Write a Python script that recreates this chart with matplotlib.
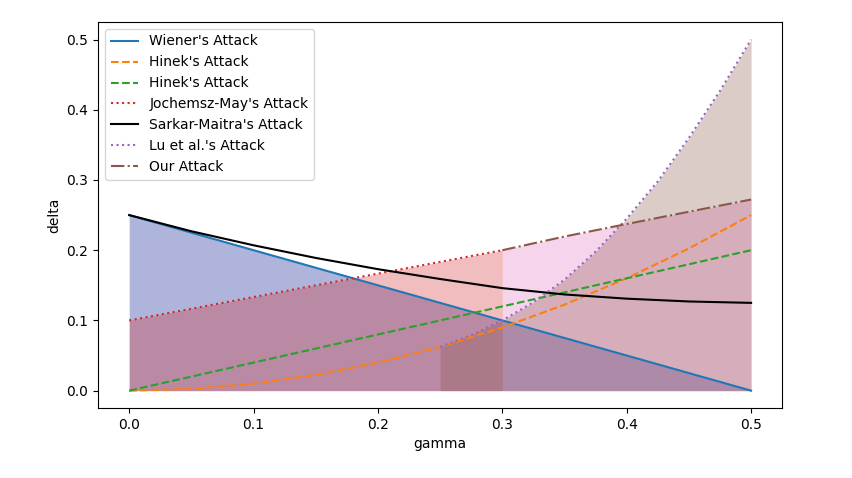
import matplotlib
matplotlib.use("Agg")
import matplotlib.pyplot as plt
import numpy as np

g_full = [0.0, 0.05, 0.1, 0.15, 0.2, 0.25, 0.3, 0.35, 0.4, 0.45, 0.5]
wiener = [0.25, 0.225, 0.2, 0.175, 0.15, 0.125, 0.1, 0.075, 0.05, 0.025, 0.0]
hinek1 = [0.0, 0.0025, 0.01, 0.0225, 0.04, 0.0625, 0.09, 0.1225, 0.16, 0.2025, 0.25]
hinek2 = [0.0, 0.02, 0.04, 0.06, 0.08, 0.1, 0.12, 0.14, 0.16, 0.18, 0.2]
sarkar = [0.25, 0.227, 0.207, 0.189, 0.173, 0.159, 0.146, 0.137, 0.131, 0.127, 0.125]
g_jm = [0.0, 0.1, 0.2, 0.3]
jm = [0.1, 0.1333, 0.1667, 0.2]
g_lu = [0.25, 0.275, 0.3, 0.325, 0.35, 0.375, 0.4, 0.425, 0.45, 0.475, 0.5]
lu = [0.0625, 0.079, 0.1, 0.126, 0.158, 0.198, 0.245, 0.298, 0.36, 0.427, 0.5]
g_our = [0.3, 0.35, 0.4, 0.45, 0.5]
our = [0.2, 0.2195, 0.2373, 0.2548, 0.2722]

fig, ax = plt.subplots(figsize=(8.53, 4.78), dpi=100)
ax.plot(g_full, wiener, color='C0', label="Wiener's Attack")
ax.plot(g_full, hinek1, '--', color='C1', label="Hinek's Attack")
ax.plot(g_full, hinek2, '--', color='C2', label="Hinek's Attack")
ax.plot(g_jm, jm, ':', color='C3', label="Jochemsz-May's Attack")
ax.plot(g_full, sarkar, color='black', label="Sarkar-Maitra's Attack")
ax.plot(g_lu, lu, ':', color='C4', label="Lu et al.'s Attack")
ax.plot(g_our, our, '-.', color='C5', label="Our Attack")

# shaded regions without edges
ax.fill_between(g_full, 0, wiener, color='#2a3a9e', alpha=0.38, linewidth=0)
ax.fill_between(g_jm, 0, jm, color='C3', alpha=0.3, linewidth=0)
ax.fill_between(g_our, 0, our, color='C6', alpha=0.3, linewidth=0)
ax.fill_between(g_lu, 0, lu, color='C5', alpha=0.3, linewidth=0)

ax.set_xlabel('gamma')
ax.set_ylabel('delta')
ax.legend(loc='upper left')
plt.subplots_adjust(left=0.115, right=0.917, bottom=0.146, top=0.954)
fig.savefig('out.png')
